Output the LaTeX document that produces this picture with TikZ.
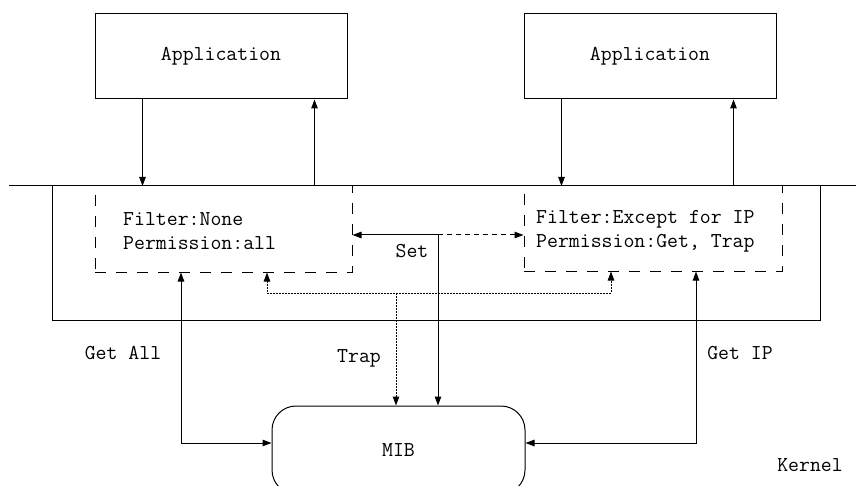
\documentclass[tikz,border=0pt]{standalone}
\usetikzlibrary{arrows.meta}
\tikzset{
  txt/.style={font=\fontsize{21.2}{24}\selectfont\ttfamily, inner sep=0pt},
  solidline/.style={line width=1pt},
  appbox/.style={draw, solidline, txt, minimum width=252pt, minimum height=85pt},
  filtbox/.style={draw, line width=1pt, dash pattern=on 11pt off 10pt, inner sep=0pt},
  kbox/.style={draw, solidline, inner sep=0pt, minimum width=768pt, minimum height=134pt},
  mibbox/.style={draw, solidline, txt, rounded corners=24pt, minimum width=253pt, minimum height=88pt},
  tip/.style={-{Triangle[length=9pt,width=6.5pt]}},
  arr/.style={solidline, tip},
  dasharr/.style={solidline, tip, dash pattern=on 5pt off 4pt},
  dotline/.style={line width=1pt, dash pattern=on 1.5pt off 1.5pt},
}
\begin{document}
\begin{tikzpicture}[x=1pt,y=-1pt]
\useasboundingbox (0,0) rectangle (856,486);
\clip (0,0) rectangle (856,486);
% nodes
\node[appbox] (app1) at (221,56.5) {Application};
\node[appbox] (app2) at (650,56.5) {Application};
\node[kbox] (kernel) at (436,253) {};
\coordinate (hlL) at (9,186);
\coordinate (hlR) at (856,186);
\draw[solidline] (hlL) -- (hlR);
\node[filtbox, minimum width=257pt, minimum height=86pt] (filt1) at (223.5,229) {};
\node[filtbox, minimum width=258pt, minimum height=85pt] (filt2) at (653,228.5) {};
\node[txt, anchor=west, align=left] (f1txt) at (123,231) {Filter:None\\Permission:all};
\node[txt, anchor=west, align=left] (f2txt) at (536,231) {Filter:Except for IP\\Permission:Get, Trap};
\node[mibbox] (mib) at (398.5,450) {MIB};
% labels
\node[txt] (getall) at (123,353) {Get All};
\node[txt] (trap) at (359,358) {Trap};
\node[txt] (getip) at (740,353) {Get IP};
\node[txt] (kern) at (810,465) {Kernel};
\node[txt] (set) at (412,251) {Set};
% application arrows
\draw[arr] ([xshift=48pt]app1.south west) coordinate (a1d) -- (a1d |- hlL);
\draw[arr] ([xshift=220pt]app1.south west |- hlL) coordinate (a1u) -- (a1u |- app1.south);
\draw[arr] ([xshift=38pt]app2.south west) coordinate (a2d) -- (a2d |- hlL);
\draw[arr] ([xshift=210pt]app2.south west |- hlL) coordinate (a2u) -- (a2u |- app2.south);
% Set
\coordinate (setc) at (438,235);
\draw[arr] (setc) -- (filt1.east |- setc);
\draw[dasharr] (setc) -- (filt2.west |- setc);
\draw[arr] (setc) -- (setc |- mib.north);
% Trap
\coordinate (trapc) at (396,293);
\coordinate (t1) at (267,293);
\coordinate (t2) at (611,293);
\draw[dotline, {Triangle[length=9pt,width=6.5pt]}-{Triangle[length=9pt,width=6.5pt]}] (t1 |- filt1.south) -- (t1) -- (t2) -- (t2 |- filt2.south);
\draw[dotline, tip] (trapc) -- (trapc |- mib.north);
% Get All / Get IP
\coordinate (g1) at (181,443);
\coordinate (g2) at (696,443);
\draw[solidline, {Triangle[length=9pt,width=6.5pt]}-{Triangle[length=9pt,width=6.5pt]}] (g1 |- filt1.south) -- (g1) -- (mib.west |- g1);
\draw[solidline, {Triangle[length=9pt,width=6.5pt]}-{Triangle[length=9pt,width=6.5pt]}] (g2 |- filt2.south) -- (g2) -- (mib.east |- g2);
\end{tikzpicture}
\end{document}
